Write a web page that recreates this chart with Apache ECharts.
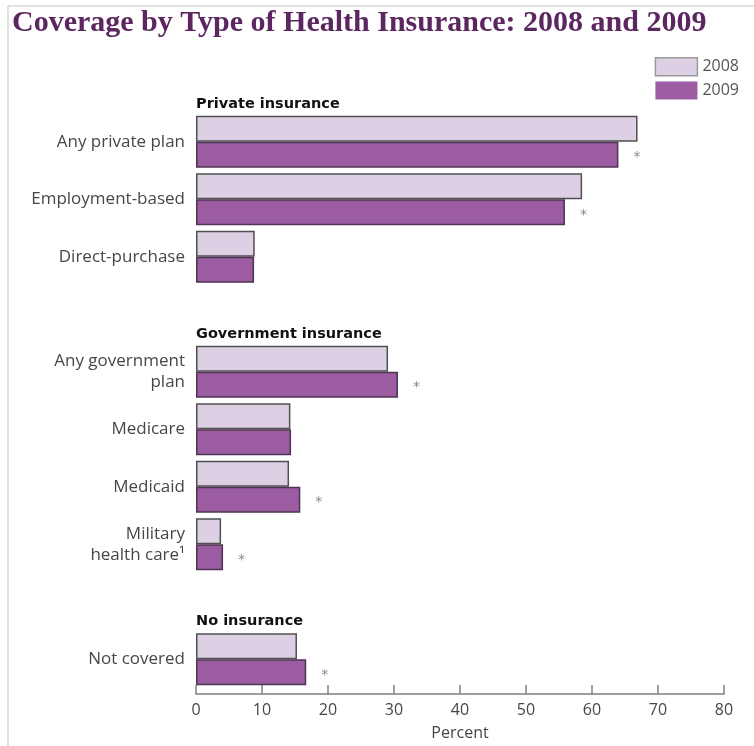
<!DOCTYPE html>
<html>
<head>
<meta charset="utf-8">
<script src="https://cdn.jsdelivr.net/npm/echarts@6/dist/echarts.min.js"></script>
<style>
  html, body { margin: 0; padding: 0; background: #fff; }
  #chart { width: 754px; height: 746px; }
</style>
</head>
<body>
<div id="chart"></div>
<script>
// categories top to bottom, blank slots separate the groups
const categories = [
  'Any private plan', 'Employment-based', 'Direct-purchase', ' ',
  'Any government\nplan', 'Medicare', 'Medicaid', 'Military\nhealth care¹', '  ',
  'Not covered',
]
const values2008 = [66.9, 58.5, 8.9, null, 29.1, 14.3, 14.1, 3.8, null, 15.3]
const values2009 = [64.0, 55.9, 8.8, null, 30.6, 14.4, 15.8, 4.1, null, 16.7]
// statistically significant change marked with an asterisk
const significant = [true, true, false, false, true, false, true, true, false, true]
const groupHeaders = [
  { text: 'Private insurance', row: 0 },
  { text: 'Government insurance', row: 4 },
  { text: 'No insurance', row: 9 },
]
const xTicks = [0, 10, 20, 30, 40, 50, 60, 70, 80]

const chart = echarts.init(document.getElementById('chart'))

const labelColor = '#474747'
const barBorder = '#505050'

chart.setOption({
  animation: false,
  backgroundColor: '#fff',
  title: {
    text: 'Coverage by Type of Health Insurance: 2008 and 2009',
    left: 7,
    top: 3,
    textStyle: {
      fontFamily: 'Liberation Serif',
      fontWeight: 'bold',
      fontSize: 30,
      color: '#5c2660',
    },
  },
  legend: {
    data: [
      { name: '2008', itemStyle: { borderColor: '#999', borderWidth: 1.5 } },
      { name: '2009', itemStyle: { borderColor: '#9b5ca2', borderWidth: 0 } },
    ],
    orient: 'vertical',
    icon: 'rect',
    right: 10,
    top: 52,
    itemWidth: 42,
    itemHeight: 18,
    itemGap: 5,
    textStyle: { fontFamily: 'Open Sans', fontSize: 16, color: '#555' },
  },
  grid: { left: 196, right: 30, top: 113, bottom: 56 },
  xAxis: {
    type: 'value',
    min: 0,
    max: 80,
    interval: 10,
    offset: 6,
    name: 'Percent',
    nameLocation: 'middle',
    nameGap: 31,
    nameTextStyle: { fontFamily: 'Open Sans', fontSize: 16, color: labelColor },
    axisLine: { show: true, lineStyle: { color: '#808080', width: 1.5 } },
    axisTick: { show: true, inside: true, length: 9, lineStyle: { color: '#808080', width: 1.5 } },
    axisLabel: {
      fontFamily: 'Open Sans',
      fontSize: 16,
      color: labelColor,
      margin: 8,
      formatter: v => (xTicks.includes(v) ? String(v) : ''),
    },
    splitLine: { show: false },
  },
  yAxis: {
    type: 'category',
    inverse: true,
    data: categories,
    axisLine: { show: false },
    axisTick: { show: false },
    axisLabel: {
      fontFamily: 'Open Sans',
      fontSize: 17,
      color: labelColor,
      margin: 11,
      lineHeight: 21,
      align: 'right',
    },
  },
  series: [
    {
      name: '2008',
      type: 'bar',
      data: values2008,
      barWidth: 26,
      barGap: '0%',
      itemStyle: { color: '#ddd0e4', borderColor: barBorder, borderWidth: 1.5 },
    },
    {
      name: '2009',
      type: 'bar',
      data: values2009,
      barWidth: 26,
      itemStyle: { color: '#9b5ca2', borderColor: '#4e3352', borderWidth: 1.5 },
      label: {
        show: true,
        position: 'right',
        distance: 15,
        offset: [0, 3],
        fontFamily: 'DejaVu Sans',
        fontSize: 14,
        color: '#888',
        formatter: p => (significant[p.dataIndex] ? '*' : ''),
      },
    },
  ],
})

// group headers sit just above the first bar of each group, aligned to zero
const x0 = chart.convertToPixel({ xAxisIndex: 0 }, 0)
const headerEls = groupHeaders.map(h => {
  const yc = chart.convertToPixel({ yAxisIndex: 0 }, h.row)
  return {
    type: 'text',
    x: x0,
    y: yc - 38,
    style: {
      text: h.text,
      fontFamily: 'DejaVu Sans',
      fontWeight: 'bold',
      fontSize: 14.5,
      fill: '#111',
      verticalAlign: 'middle',
    },
  }
})

chart.setOption({
  graphic: [
    // faint frame from the source scan
    { type: 'line', shape: { x1: 8, y1: 6, x2: 754, y2: 6 }, style: { stroke: '#d8d8d8', lineWidth: 1.5 } },
    { type: 'line', shape: { x1: 8, y1: 6, x2: 8, y2: 746 }, style: { stroke: '#d8d8d8', lineWidth: 1.5 } },
    ...headerEls,
  ],
})
</script>
</body>
</html>
